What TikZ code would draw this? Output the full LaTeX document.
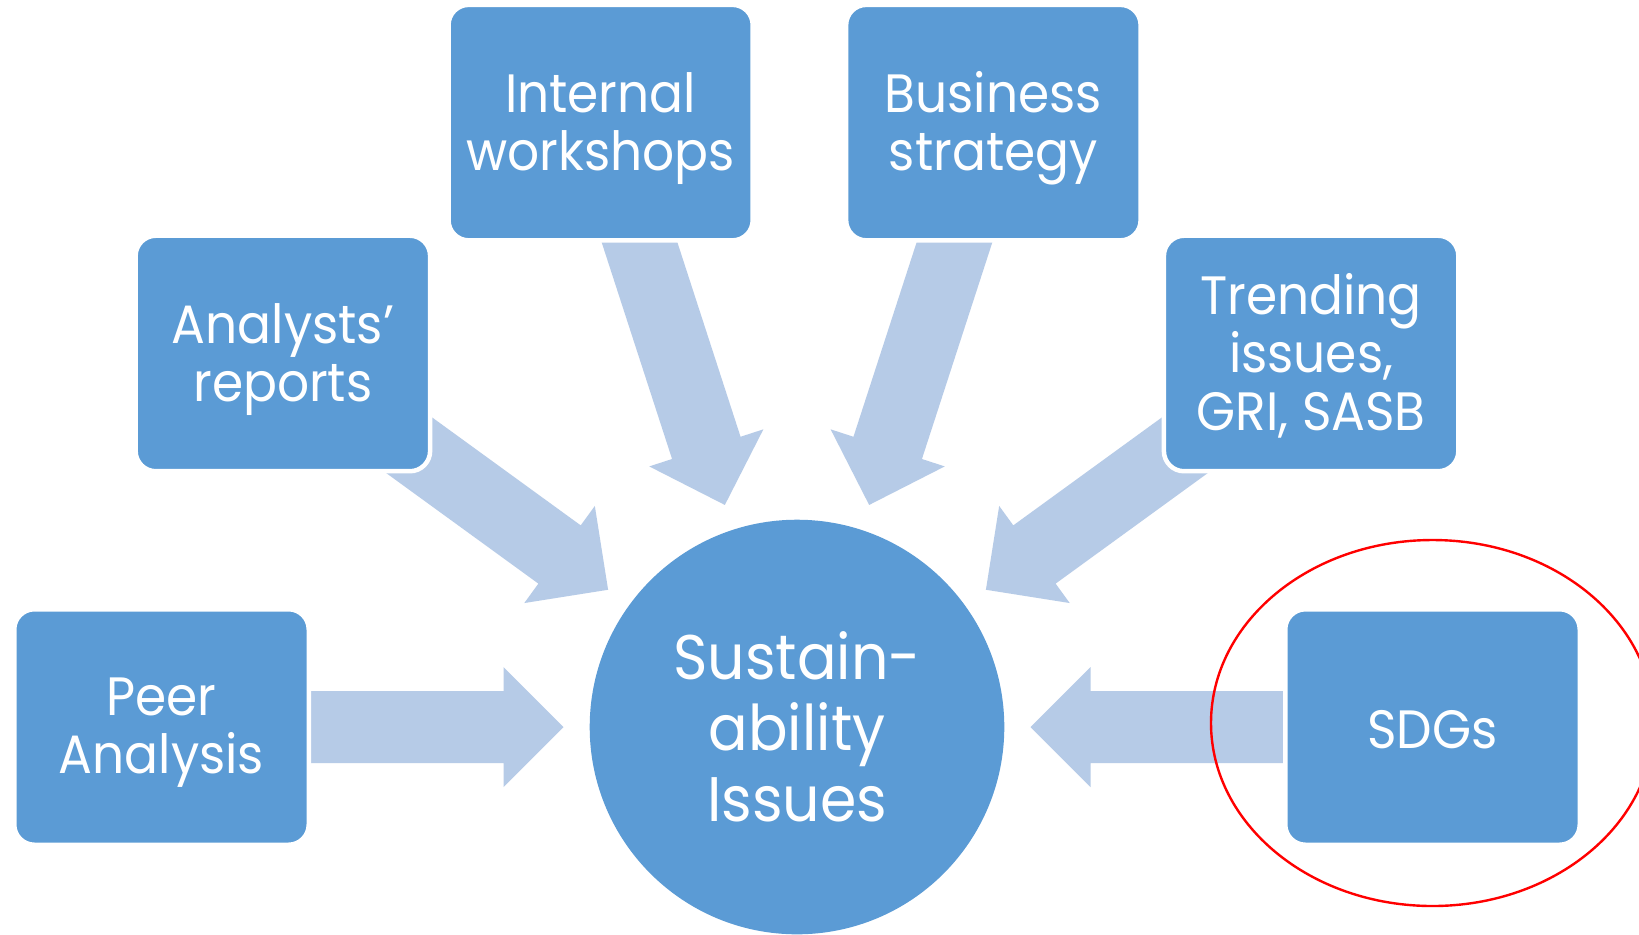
\documentclass[tikz,border=0pt]{standalone}
\usepackage{fontspec}
\setmainfont{Poppins}[FakeStretch=0.93]
\usetikzlibrary{calc}

\definecolor{boxblue}{RGB}{91,155,213}
\definecolor{arrowblue}{RGB}{182,203,231}
\definecolor{ringred}{RGB}{255,0,0}

\pgfdeclarelayer{bg}
\pgfdeclarelayer{arrows}
\pgfsetlayers{bg,arrows,main}

\tikzset{
  srcbox/.style={rectangle, rounded corners=10.1pt, fill=boxblue, draw=white,
    line width=2.25pt, minimum width=147.25pt, minimum height=117.75pt, inner sep=0pt},
  boxlabel/.style={inner sep=0pt, align=center, text=white,
    font=\fontsize{27}{29}\selectfont},
  hubdisc/.style={circle, fill=boxblue, minimum size=207.3pt, inner sep=0pt,
    align=center, text=white, font=\fontsize{31.5}{35.5}\selectfont},
  ring/.style={draw=ringred, line width=1.2pt},
  feed/.style={fill=arrowblue},
}

% block arrow running from source box #1 toward the hub #2
\newcommand{\feedarrow}[2]{%
  \fill[feed] let \p1=($(#1)-(#2)$), \n1={atan2(\y1,\x1)} in
    ($(#2)+(\n1:116.75pt)$)
    -- ($(#2)+(\n1:146.75pt)+(\n1+90:30pt)$)
    -- ($(#2)+(\n1:146.75pt)+(\n1+90:18pt)$)
    -- ($(#2)+(\n1:270pt)+(\n1+90:18pt)$)
    -- ($(#2)+(\n1:270pt)+(\n1-90:18pt)$)
    -- ($(#2)+(\n1:146.75pt)+(\n1-90:18pt)$)
    -- ($(#2)+(\n1:146.75pt)+(\n1-90:30pt)$)
    -- cycle;
}

\begin{document}
\begin{tikzpicture}[x=0.5pt, y=-0.5pt]
  \begin{pgfonlayer}{bg}
    \fill[white] (0,0) rectangle (1639,934);
  \end{pgfonlayer}
  \useasboundingbox (0,0) rectangle (1639,934);

  % central disc
  \node[hubdisc] (hub) at (797,727) {Sustain-\\ability\\Issues};

  % sources placed on rays every 36 degrees
  \node[srcbox] (sdg) at ($(hub)+(0:317.75pt)$) {};
  \node[srcbox] (trend) at ($(hub)+(36:317.75pt)$) {};
  \node[srcbox] (biz) at ($(hub)+(72:317.75pt)$) {};
  \node[srcbox, minimum width=152.1pt] (work) at ($(hub)+(108:317.75pt)$) {};
  \node[srcbox] (analyst) at ($(hub)+(144:317.75pt)$) {};
  \node[srcbox] (peer) at ($(hub)+(180:317.75pt)$) {};

  % box captions
  \node[boxlabel] (sdgtext) at ([yshift=-1.5pt]sdg.center) {SDGs};
  \node[boxlabel] (trendtext) at ([yshift=-1pt]trend.center) {Trending\\issues,\\GRI, SASB};
  \node[boxlabel] (biztext) at ([yshift=-3pt]biz.center) {Business\\strategy};
  \node[boxlabel] (worktext) at ([yshift=-3pt]work.center) {Internal\\workshops};
  \node[boxlabel] (analysttext) at ([yshift=-3pt]analyst.center) {Analysts’\\reports};
  \node[boxlabel] (peertext) at ([yshift=-3pt]peer.center) {Peer\\Analysis};

  % arrows sit underneath the boxes
  \begin{pgfonlayer}{arrows}
    \feedarrow{sdg}{hub}
    \feedarrow{trend}{hub}
    \feedarrow{biz}{hub}
    \feedarrow{work}{hub}
    \feedarrow{analyst}{hub}
    \feedarrow{peer}{hub}
  \end{pgfonlayer}

  % highlight ring
  \draw[ring] ($(sdg.center)+(0,-4)$) ellipse [x radius=110.75pt, y radius=91.5pt];
\end{tikzpicture}
\end{document}
